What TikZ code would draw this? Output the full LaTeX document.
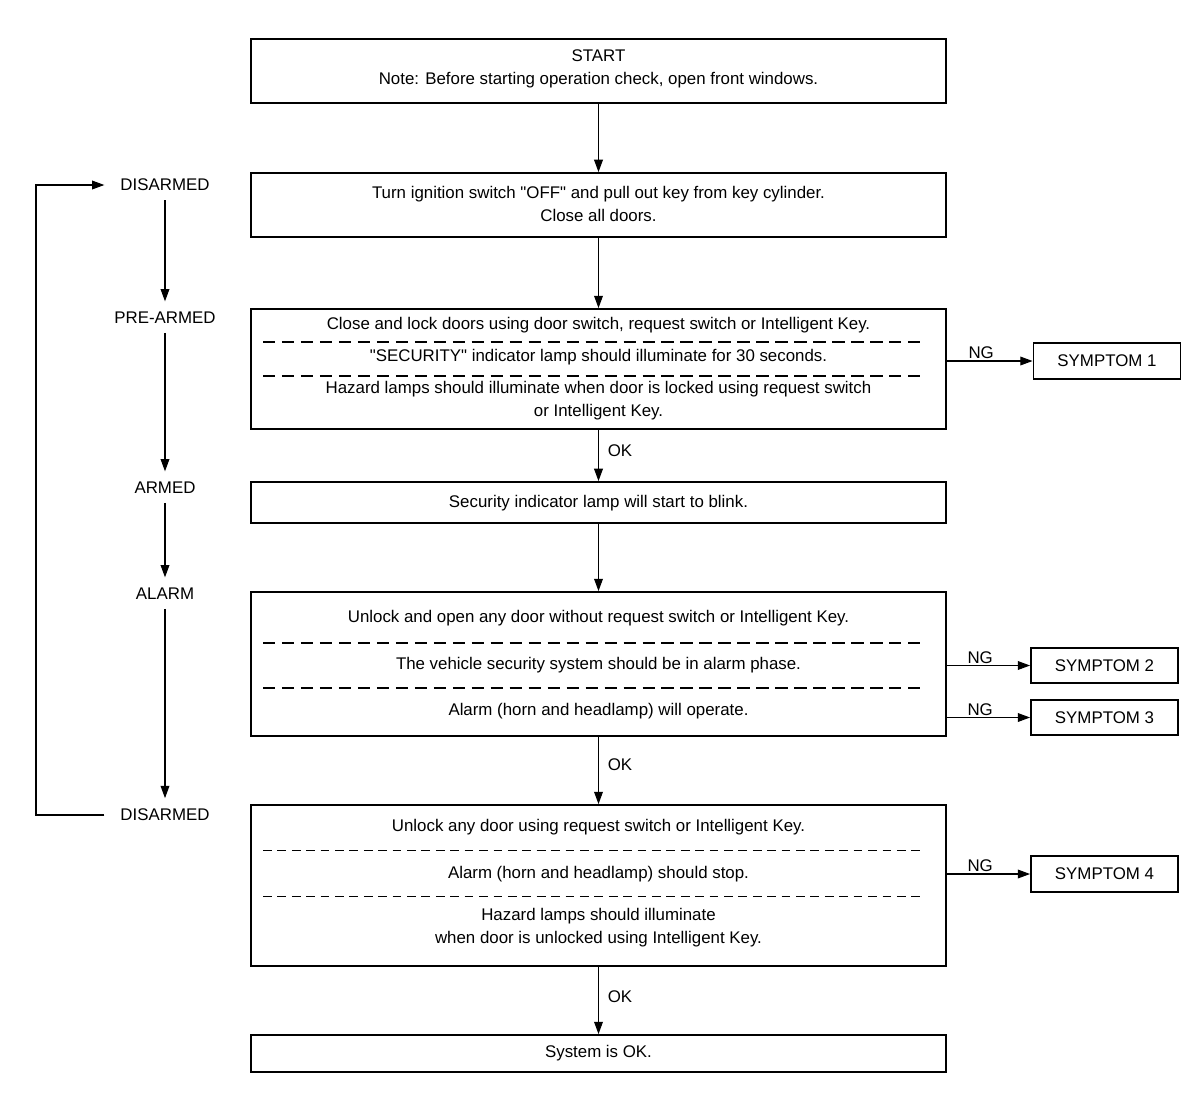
\documentclass[tikz,border=0pt]{standalone}
\usepackage{fontspec}
\setmainfont{Liberation Sans}[Ligatures=TeXOff]
\usetikzlibrary{arrows.meta}
\begin{document}
\begin{tikzpicture}[x=0.02cm,y=-0.02cm,
  font=\fontsize{9.6}{13}\selectfont,
  box/.style={draw, line width=1.1pt, inner sep=0pt, minimum width=13.9cm},
  symbox/.style={draw, line width=1.1pt, inner sep=0pt, minimum width=2.94cm, minimum height=0.71cm},
  txt/.style={inner sep=0pt, align=center},
  state/.style={inner sep=2pt},
  arr/.style={line width=0.6pt, -{Triangle[length=7pt,width=5pt]}},
  sepA/.style={line width=1pt, dash pattern=on 7pt off 3.8pt},
  sepB/.style={line width=0.5pt, dash pattern=on 5pt off 3.2pt},
  lab/.style={inner sep=1pt}]
\useasboundingbox (0,0) rectangle (1200,1096);

% main boxes
\node[box, minimum height=1.28cm] (b1) at (598.5,71) {};
\node[txt] (t1) at (598.5,68.5) {START\\Note: Before starting operation check, open front windows.};

\node[box, minimum height=1.28cm] (b2) at (598.5,205) {};
\node[txt] (t2) at (598.5,204) {Turn ignition switch "OFF" and pull out key from key cylinder.\\Close all doors.};

\node[box, minimum height=2.4cm] (b3) at (598.5,369) {};
\node[txt] (t3a) at (598.5,325) {Close and lock doors using door switch, request switch or Intelligent Key.};
\node[txt] (t3b) at (598.5,357) {"SECURITY" indicator lamp should illuminate for 30 seconds.};
\node[txt] (t3c) at (598.5,401) {Hazard lamps should illuminate when door is locked using request switch\\or Intelligent Key.};
\draw[sepA] (263,342) -- (925,342);
\draw[sepA] (263,376) -- (925,376);

\node[box, minimum height=0.82cm] (b4) at (598.5,502.5) {};
\node[txt] (t4) at (598.5,503) {Security indicator lamp will start to blink.};

\node[box, minimum height=2.88cm] (b5) at (598.5,664) {};
\node[txt] (t5a) at (598.5,618) {Unlock and open any door without request switch or Intelligent Key.};
\node[txt] (t5b) at (598.5,665) {The vehicle security system should be in alarm phase.};
\node[txt] (t5c) at (598.5,711) {Alarm (horn and headlamp) will operate.};
\draw[sepA] (263,643) -- (925,643);
\draw[sepA] (263,688) -- (925,688);

\node[box, minimum height=3.22cm] (b6) at (598.5,885.5) {};
\node[txt] (t6a) at (598.5,827) {Unlock any door using request switch or Intelligent Key.};
\node[txt] (t6b) at (598.5,874) {Alarm (horn and headlamp) should stop.};
\node[txt] (t6c) at (598.5,928) {Hazard lamps should illuminate\\when door is unlocked using Intelligent Key.};
\draw[sepB] (263,850) -- (925,850);
\draw[sepB] (263,896) -- (925,896);

\node[box, minimum height=0.74cm] (b7) at (598.5,1053.5) {};
\node[txt] (t7) at (598.5,1053) {System is OK.};

% main flow
\draw[arr] (b1) -- (b2);
\draw[arr] (b2) -- (b3);
\draw[arr] (b3) -- node[lab, anchor=west, pos=0.4, xshift=4pt] {OK} (b4);
\draw[arr] (b4) -- (b5);
\draw[arr] (b5) -- node[lab, anchor=west, pos=0.42, xshift=4pt] {OK} (b6);
\draw[arr] (b6) -- node[lab, anchor=west, pos=0.45, xshift=4pt] {OK} (b7);

% symptoms
\node[symbox] (s1) at (1107,361) {SYMPTOM 1};
\node[symbox] (s2) at (1104.5,665.5) {SYMPTOM 2};
\node[symbox] (s3) at (1104.5,717.5) {SYMPTOM 3};
\node[symbox] (s4) at (1104.5,874) {SYMPTOM 4};
\draw[arr] (b3.east |- s1) -- node[lab, above, pos=0.4] {NG} (s1.west);
\draw[arr] (b5.east |- s2) -- node[lab, above, pos=0.4] {NG} (s2.west);
\draw[arr] (b5.east |- s3) -- node[lab, above, pos=0.4] {NG} (s3.west);
\draw[arr] (b6.east |- s4) -- node[lab, above, pos=0.4] {NG} (s4.west);

% states
\node[state] (d1) at (165,185) {DISARMED};
\node[state] (pa) at (165,318) {PRE-ARMED};
\node[state] (ar) at (165,488) {ARMED};
\node[state] (al) at (165,594) {ALARM};
\node[state] (d2) at (165,815) {DISARMED};
\coordinate (lp) at (36,500);
\draw[arr] ([yshift=-3pt]d1.south) -- ([yshift=4pt]pa.north);
\draw[arr] ([yshift=-3pt]pa.south) -- ([yshift=4pt]ar.north);
\draw[arr] ([yshift=-3pt]ar.south) -- ([yshift=4pt]al.north);
\draw[arr] ([yshift=-3pt]al.south) -- ([yshift=4pt]d2.north);
\draw[arr] ([xshift=-7pt]d2.west) -- (d2.west -| lp) -- (d1.west -| lp) -- ([xshift=-7pt]d1.west);
\end{tikzpicture}
\end{document}
